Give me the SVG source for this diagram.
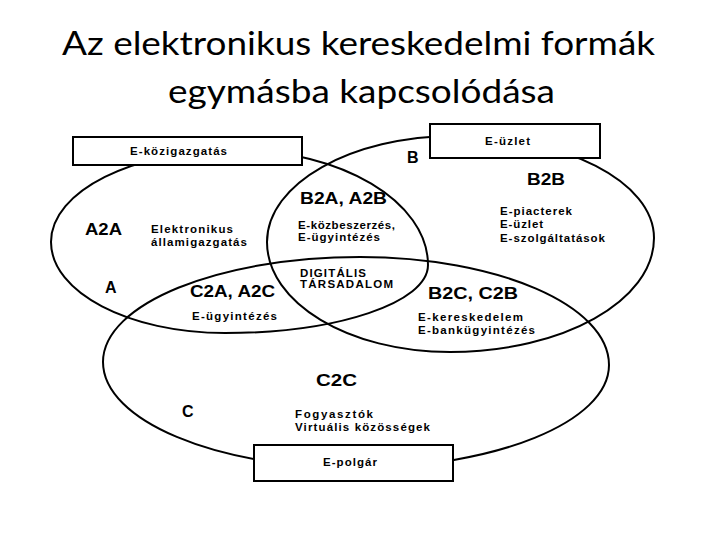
<svg xmlns="http://www.w3.org/2000/svg" width="720" height="540" viewBox="0 0 720 540">
<style>
.title{font-family:Lato,"Open Sans","Noto Sans",sans-serif;font-size:33px;fill:#000}
.big{font-family:"Liberation Sans",Arial,sans-serif;font-weight:bold;font-size:16px;fill:#000}
.small{font-family:"Liberation Sans",Arial,sans-serif;font-weight:bold;font-size:11.5px;fill:#000}
.set{fill:none;stroke:#000;stroke-width:2}
.box{fill:#fff;stroke:#000;stroke-width:2}
</style>
<rect width="720" height="540" fill="#fff"/>
<g id="title">
<text class="title" x="62" y="55" textLength="593" lengthAdjust="spacingAndGlyphs">Az elektronikus kereskedelmi formák</text>
<text class="title" x="168" y="103" textLength="387" lengthAdjust="spacingAndGlyphs">egymásba kapcsolódása</text>
</g>
<g id="connectors">
<path id="set-A" class="set" d="M51,242 C51,191.2 133.4,150 235,150 C341,150 428,201.5 428,265 C428,302.6 337.5,333 225,333 C128.9,333 51,292.3 51,242 Z"/>
<path id="set-B" class="set" d="M267,242 C267,183.5 351.2,136 455,136 C564.9,136 654,181.7 654,238 C654,301 562.7,352 450,352 C348.9,352 267,302.8 267,242 Z"/>
<path id="set-C" class="set" d="M103,362 C103,304 218.1,257 360,257 C497.5,257 609,305.4 609,365 C609,421.9 495.3,468 355,468 C215.8,468 103,420.5 103,362 Z"/>
</g>
<g id="node-e-kozigazgatas">
<rect class="box" x="73" y="137" width="229" height="28"/>
<text class="small" x="130" y="155" textLength="97" font-size="12">E-közigazgatás</text>
</g>
<g id="node-e-uzlet">
<rect class="box" x="430" y="124" width="170" height="34"/>
<text class="small" x="485" y="145" textLength="45">E-üzlet</text>
</g>
<g id="node-e-polgar">
<rect class="box" x="254" y="445" width="199" height="36"/>
<text class="small" x="323" y="466" textLength="54">E-polgár</text>
</g>
<g id="region-A">
<text class="big" x="85" y="235" textLength="37" lengthAdjust="spacingAndGlyphs">A2A</text>
<text class="small" x="151" y="233" textLength="82">Elektronikus</text>
<text class="small" x="151" y="246" textLength="96">államigazgatás</text>
<text class="big" x="105" y="293">A</text>
</g>
<g id="region-AB">
<text class="big" x="300" y="204" textLength="87" lengthAdjust="spacingAndGlyphs">B2A, A2B</text>
<text class="small" x="298" y="229" textLength="97">E-közbeszerzés,</text>
<text class="small" x="298" y="241" textLength="82">E-ügyintézés</text>
</g>
<g id="region-ABC">
<text class="small" x="300" y="277" textLength="66" font-size="12">DIGITÁLIS</text>
<text class="small" x="300" y="288" textLength="93" font-size="12">TÁRSADALOM</text>
</g>
<g id="region-AC">
<text class="big" x="190" y="297" textLength="85" lengthAdjust="spacingAndGlyphs">C2A, A2C</text>
<text class="small" x="192" y="320" textLength="85">E-ügyintézés</text>
</g>
<g id="region-B">
<text class="big" x="407" y="163">B</text>
<text class="big" x="527" y="185" textLength="38" lengthAdjust="spacingAndGlyphs">B2B</text>
<text class="small" x="500" y="215" textLength="72">E-piacterek</text>
<text class="small" x="500" y="228" textLength="43">E-üzlet</text>
<text class="small" x="500" y="242" textLength="105">E-szolgáltatások</text>
</g>
<g id="region-BC">
<text class="big" x="428" y="299" textLength="90" lengthAdjust="spacingAndGlyphs">B2C, C2B</text>
<text class="small" x="418" y="321" textLength="105">E-kereskedelem</text>
<text class="small" x="418" y="334" textLength="117">E-bankügyintézés</text>
</g>
<g id="region-C">
<text class="big" x="316" y="386" textLength="41" lengthAdjust="spacingAndGlyphs">C2C</text>
<text class="big" x="182" y="417">C</text>
<text class="small" x="295" y="418" textLength="78">Fogyasztók</text>
<text class="small" x="295" y="431" textLength="135">Virtuális közösségek</text>
</g>
</svg>
